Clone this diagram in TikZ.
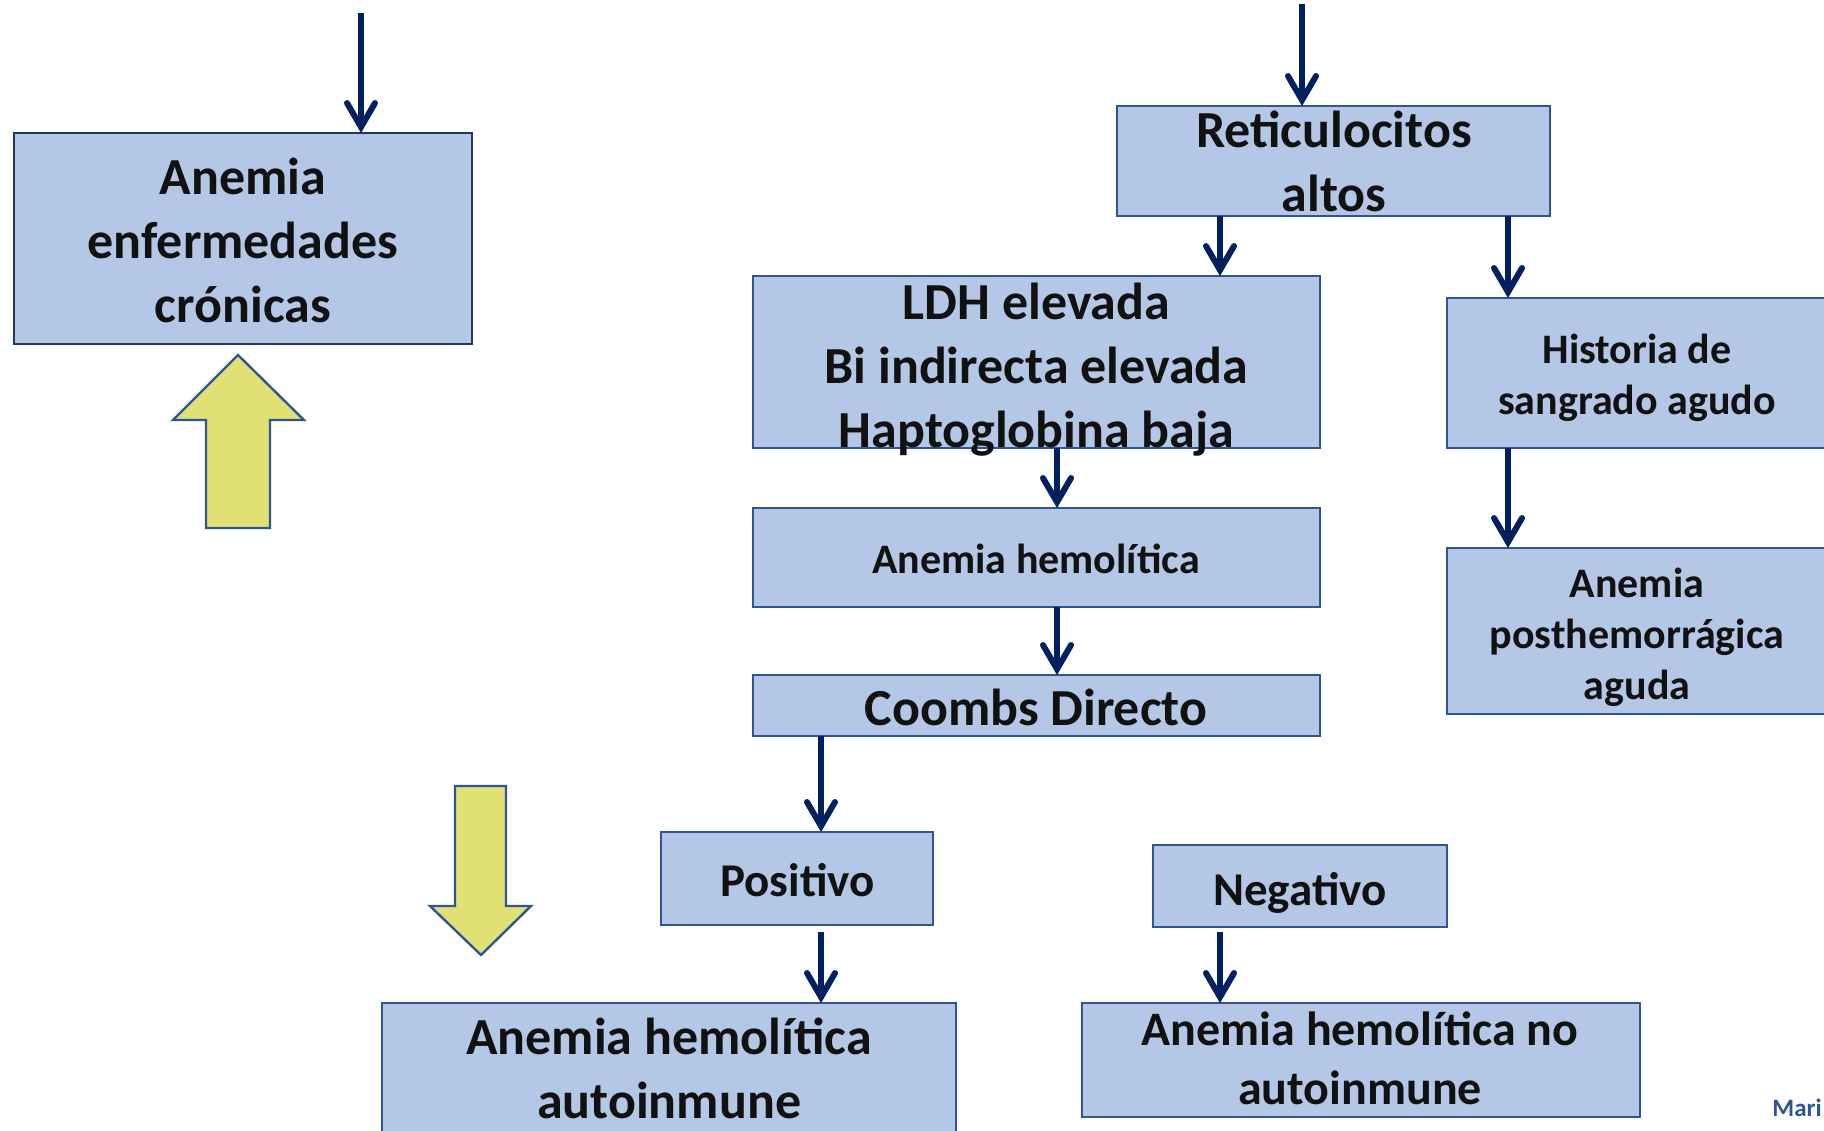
\documentclass[tikz,border=0pt]{standalone}
\usepackage{fontspec}
\setmainfont{Carlito}
\usetikzlibrary{arrows.meta}
\definecolor{boxfill}{HTML}{B4C7E7}
\definecolor{boxline}{HTML}{2F5597}
\definecolor{boxlinedark}{HTML}{1F3864}
\definecolor{arrowc}{HTML}{002060}
\definecolor{yel}{HTML}{E1E073}
\definecolor{txt}{HTML}{111111}
\begin{document}
\begin{tikzpicture}[x=0.5pt,y=-0.5pt,
  box/.style={draw=boxline, fill=boxfill, line width=1.2pt, inner sep=0pt, outer sep=0pt},
  tbig/.style={font=\bfseries\fontsize{26}{32}\selectfont, text=txt, align=center, inner sep=0pt},
  tmid/.style={font=\bfseries\fontsize{21}{25.5}\selectfont, text=txt, align=center, inner sep=0pt},
  tmed/.style={font=\bfseries\fontsize{23.5}{29}\selectfont, text=txt, align=center, inner sep=0pt},
  tnear/.style={font=\bfseries\fontsize{24}{29.5}\selectfont, text=txt, align=center, inner sep=0pt},
  arr/.style={draw=arrowc, line width=3pt, -{Straight Barb[length=12pt,width=14pt,line cap=round,line join=miter]}},
  yarrow/.style={draw=boxline, fill=yel, line width=1.2pt, line join=miter}]
\useasboundingbox (0,0) rectangle (1824,1130);
\clip (0,0) rectangle (1824,1130);

% boxes
\node[box, draw=boxlinedark, minimum width=229pt, minimum height=105.5pt] (aec) at (243,238.5) {};
\node[tbig] (aec-t) at (243,240) {Anemia\\enfermedades\\crónicas};

\node[box, minimum width=216.5pt, minimum height=55pt] (ret) at (1333.5,161) {};
\node[tbig] (ret-t) at (1334,161.5) {Reticulocitos\\altos};

\node[box, minimum width=283.5pt, minimum height=86pt] (ldh) at (1036.5,362) {};

\node[box, minimum width=190pt, minimum height=75pt] (his) at (1637,373) {};
\node[tmid] (his-t) at (1637,377.5) {Historia de\\sangrado agudo};

\node[box, minimum width=190pt, minimum height=83pt] (aph) at (1637,631) {};
\node[tmid] (aph-t) at (1637,637) {Anemia\\posthemorrágica\\aguda};

\node[box, minimum width=283.5pt, minimum height=49.5pt] (ah) at (1036.5,557.5) {};
\node[tmid] (ah-t) at (1036,559) {Anemia hemolítica};

\node[box, minimum width=283.5pt, minimum height=30.5pt] (coo) at (1036.5,705.5) {};
\node[tbig] (coo-t) at (1036,707.5) {Coombs Directo};

\node[box, minimum width=136pt, minimum height=46.5pt] (posi) at (797,878.5) {};
\node[tmed] (posi-t) at (797.5,880) {Positivo};

\node[box, minimum width=287pt, minimum height=73.5pt] (aha) at (669,1076.5) {};
\node[tbig] (aha-t) at (669,1068) {Anemia hemolítica\\autoinmune};

\node[box, minimum width=147pt, minimum height=41pt] (neg) at (1300,886) {};
\node[tmed] (neg-t) at (1300,892.7) {Negativo};

\node[box, minimum width=279pt, minimum height=57pt] (ahna) at (1361,1060) {};
\node[tnear] (ahna-t) at (1360,1058.7) {Anemia hemolítica no\\autoinmune};

\node[tbig] (ldh-t) at (1036.5,370) {LDH elevada\\Bi indirecta elevada\\Haptoglobina baja};

\node[anchor=base west, font=\bfseries\fontsize{12.5}{15}\selectfont, text=boxline, inner sep=0pt] (mari) at (1772,1116) {Mari};

% yellow block arrows
\draw[yarrow] (238,355) -- (304,420) -- (270,420) -- (270,528) -- (206,528) -- (206,420) -- (173,420) -- cycle;
\draw[yarrow] (455,786) -- (506,786) -- (506,906) -- (531,906) -- (481,955) -- (430,906) -- (455,906) -- cycle;

% connectors
\coordinate (kTL) at (361,13);
\coordinate (kTR) at (1302,4);
\coordinate (k1220) at (1220,0);
\coordinate (k1508) at (1508,0);
\coordinate (k1057) at (1057,0);
\coordinate (k821) at (821,0);

\draw[arr] (kTL) -- (aec.north -| kTL);
\draw[arr] (kTR) -- (ret.north -| kTR);
\draw[arr] (ret.south -| k1220) -- (ldh.north -| k1220);
\draw[arr] (ret.south -| k1508) -- (his.north -| k1508);
\draw[arr] (his.south -| k1508) -- (aph.north -| k1508);
\draw[arr] (ldh.south -| k1057) -- (ah.north -| k1057);
\draw[arr] (ah.south -| k1057) -- (coo.north -| k1057);
\draw[arr] (coo.south -| k821) -- (posi.north -| k821);
\draw[arr, shorten <=3.5pt] (posi.south -| k821) -- (aha.north -| k821);
\draw[arr, shorten <=2.5pt] (neg.south -| k1220) -- (ahna.north -| k1220);
\end{tikzpicture}
\end{document}
